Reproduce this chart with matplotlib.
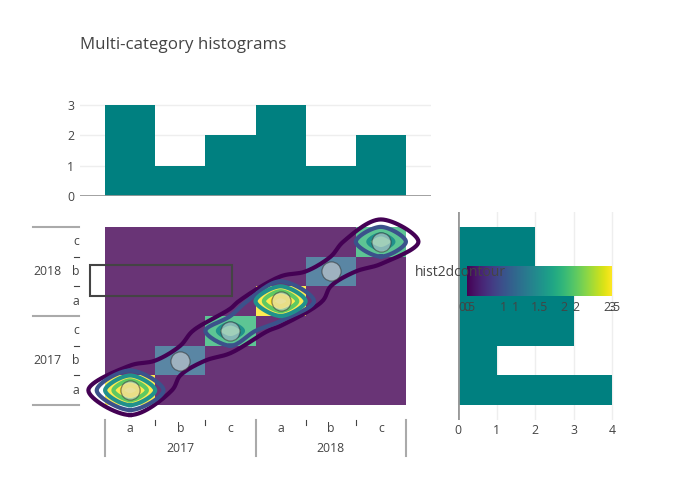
import matplotlib
matplotlib.use("Agg")
import matplotlib.pyplot as plt
import numpy as np
from matplotlib import transforms
from matplotlib.patches import Rectangle
from matplotlib.colors import Normalize

plt.rcParams["font.family"] = ["Open Sans", "DejaVu Sans"]

# ── data ──
years = ["2017", "2018"]
letters = ["a", "b", "c"]
diag_counts = [3, 1, 2, 3, 1, 2]      # histogram2d counts (x == y cells)
x_hist_counts = [3, 1, 2, 3, 1, 2]    # top histogram
y_hist_counts = [4, 1, 3, 3, 2, 2]    # right histogram
contour_levels = [0.5, 1, 1.5, 2, 2.5]
heat_ticks = [0, 1, 2, 3]
contour_ticks = [0.5, 1, 1.5, 2, 2.5]

W, H = 700, 500
TEAL = "#008080"
TXT = "#444444"
FS = 8.8

fig = plt.figure(figsize=(W / 100, H / 100), dpi=100)


def rect(x0, y0, x1, y1):  # pixel box (top-left origin) -> figure fraction
    return [x0 / W, 1 - y1 / H, (x1 - x0) / W, (y1 - y0) / H]


def fy(y):
    return 1 - y / H


def fx(x):
    return x / W


def smooth_closed(pts, sx, sy, smooth=1.0, k=16):
    # centripetal catmull-rom bezier, same idea as plotly's smoothclosed
    if np.allclose(pts[0], pts[-1]):
        pts = pts[:-1]
    p = pts * [sx, sy]
    m = len(p)
    tin, tout = [], []
    for i in range(m):
        prev, cur, nxt = p[i - 1], p[i], p[(i + 1) % m]
        d1, d2 = prev - cur, nxt - cur
        a1 = np.hypot(*d1) ** 0.5
        a2 = np.hypot(*d2) ** 0.5
        num = (a2 * a2 * d1 - a1 * a1 * d2) * smooth
        den1 = 3 * a2 * (a1 + a2)
        den2 = 3 * a1 * (a1 + a2)
        tin.append(cur + (num / den1 if den1 else 0))
        tout.append(cur - (num / den2 if den2 else 0))
    t = np.linspace(0, 1, k, endpoint=False)[:, None]
    out = []
    for i in range(m):
        j = (i + 1) % m
        b0, b1, b2, b3 = p[i], tout[i], tin[j], p[j]
        out.append((1 - t) ** 3 * b0 + 3 * (1 - t) ** 2 * t * b1
                   + 3 * (1 - t) * t ** 2 * b2 + t ** 3 * b3)
    out = np.vstack(out)
    out = np.vstack([out, out[:1]])
    return out / [sx, sy]


n = len(years) * len(letters)
idx = np.arange(n)

# ── main 2d histogram + contour ──
ax = fig.add_axes(rect(80, 212, 431, 420))
ax.set_xlim(-1, 6)
ax.set_ylim(-1, 6)
ax.axis("off")

Z = np.zeros((n, n))
Z[idx, idx] = diag_counts
edges = np.arange(n + 1) - 0.5
ax.pcolormesh(edges, edges, Z, cmap="viridis", vmin=0, vmax=3, alpha=0.8, zorder=1)

# contour on the grid padded by one empty bin, then smoothed
P = np.zeros((n + 2, n + 2))
P[1:-1, 1:-1] = Z
coords = np.arange(-1, n + 1)
cnorm = Normalize(0.5, 2.5)
cs = ax.contour(coords, coords, P, levels=contour_levels, alpha=0)
for lev, path in zip(cs.levels, cs.get_paths()):
    col = plt.cm.viridis(cnorm(lev))
    for poly in path.to_polygons(closed_only=False):
        if len(poly) < 3:
            continue
        sm = smooth_closed(np.asarray(poly), 351 / 7, 208 / 7)
        ax.plot(sm[:, 0], sm[:, 1], color=col, lw=3, zorder=2,
                solid_joinstyle="round", clip_on=False)

ax.scatter(idx, idx, s=190, color="#d8d8d8", alpha=0.55,
           edgecolors="#333333", linewidths=0.9, zorder=3)

# multicategory x labels
tx = transforms.blended_transform_factory(ax.transData, fig.transFigure)
for i in idx:
    ax.text(i, fy(428), letters[i % 3], transform=tx, ha="center", va="center",
            fontsize=FS, color=TXT)
for j, yr in enumerate(years):
    ax.text(j * 3 + 1, fy(448), yr, transform=tx, ha="center", va="center",
            fontsize=FS, color=TXT)
for xd in [-0.5, 2.5, 5.5]:
    ax.plot([xd, xd], [fy(420), fy(456)], transform=tx, color="#aaaaaa", lw=1.5, clip_on=False)
for xd in [0.5, 1.5, 3.5, 4.5]:
    ax.plot([xd, xd], [fy(420), fy(425)], transform=tx, color=TXT, lw=0.8, clip_on=False)

# multicategory y labels
ty = transforms.blended_transform_factory(fig.transFigure, ax.transData)
for i in idx:
    ax.text(fx(76), i, letters[i % 3], transform=ty, ha="center", va="center",
            fontsize=FS, color=TXT)
for j, yr in enumerate(years):
    ax.text(fx(47), j * 3 + 1, yr, transform=ty, ha="center", va="center",
            fontsize=FS, color=TXT)
for yd in [-0.5, 2.5, 5.5]:
    ax.plot([fx(33), fx(79)], [yd, yd], transform=ty, color="#aaaaaa", lw=1.5, clip_on=False)
for yd in [0.5, 1.5, 3.5, 4.5]:
    ax.plot([fx(73.5), fx(78.5)], [yd, yd], transform=ty, color=TXT, lw=0.8, clip_on=False)

# ── top histogram ──
axt = fig.add_axes(rect(80, 100, 431, 196))
axt.bar(idx, x_hist_counts, width=1, color=TEAL, zorder=2)
axt.set_xlim(-1, 6)
axt.set_ylim(0, 3.16)
axt.set_yticks([0, 1, 2, 3])
axt.set_xticks([])
axt.grid(axis="y", color="#eeeeee", lw=1, zorder=0)
for s in axt.spines.values():
    s.set_visible(False)
axt.axhline(0, color="#999999", lw=2, zorder=3)
axt.tick_params(axis="y", length=0, labelsize=FS, labelcolor=TXT, pad=4)

# ── right histogram ──
axr = fig.add_axes(rect(458, 212, 620, 420))
axr.barh(idx, y_hist_counts, height=1, color=TEAL, zorder=2)
axr.set_ylim(-1, 6)
axr.set_xlim(0, 4.2)
axr.set_xticks([0, 1, 2, 3, 4])
axr.set_yticks([])
axr.grid(axis="x", color="#eeeeee", lw=1, zorder=0)
for s in axr.spines.values():
    s.set_visible(False)
axr.axvline(0, color="#999999", lw=2, zorder=3)
axr.tick_params(axis="x", length=0, labelsize=FS, labelcolor=TXT, pad=3)

# ── overlapping colorbars ──
axc = fig.add_axes(rect(467, 266, 612, 296))
axc.imshow(np.linspace(0, 1, 256)[None, :], cmap="viridis", aspect="auto",
           extent=[0, 1, 0, 1])
axc.set_xlim(0, 1)
axc.axis("off")
for t in heat_ticks:
    axc.text(t / 3, -0.38, f"{t:g}", transform=axc.transAxes, ha="center",
             va="center", fontsize=FS, color=TXT)
for t in contour_ticks:
    axc.text((t - 0.5) / 2, -0.38, f"{t:g}", transform=axc.transAxes, ha="center",
             va="center", fontsize=FS, color=TXT)
fig.text(fx(415), fy(273), "hist2dcontour", ha="left", va="center",
         fontsize=10, color=TXT, zorder=10)

# empty legend box
fig.add_artist(Rectangle((fx(90), fy(296)), (232 - 90) / W, (296 - 265) / H,
                         transform=fig.transFigure, fill=False,
                         edgecolor=TXT, lw=1.5, zorder=10))

fig.text(fx(80), fy(45), "Multi-category histograms", ha="left", va="center",
         fontsize=12.2, color=TXT)

fig.savefig("out.png", dpi=100, facecolor="white")
